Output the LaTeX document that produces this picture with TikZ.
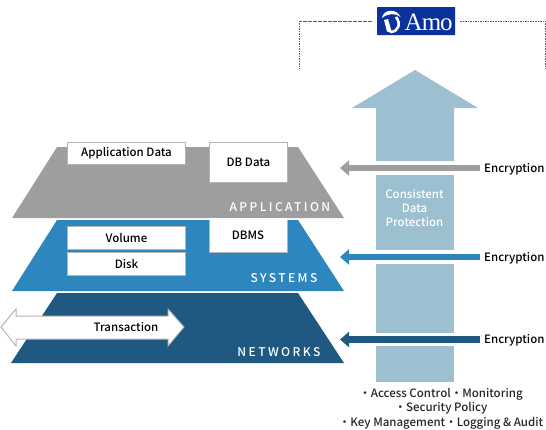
\documentclass[tikz,border=0pt]{standalone}
\usepackage{fontspec}
\setmainfont{Noto Sans CJK KR Medium}
\newfontfamily\logofont{Liberation Serif}
\usetikzlibrary{arrows.meta}
\definecolor{appgray}{HTML}{9D9E9D}
\definecolor{sysblue}{HTML}{2E86BF}
\definecolor{netblue}{HTML}{1F5880}
\definecolor{lightb}{HTML}{9DC0D0}
\definecolor{logob}{HTML}{0A319C}
\definecolor{boxline}{HTML}{B4B4B4}
\tikzset{
  x=1pt,y=-1pt,
  every node/.style={font=\fontsize{11.5}{14}\selectfont,text=black,inner sep=0pt},
  databox/.style={draw=boxline,line width=1pt,fill=white,anchor=north west},
  layerlabel/.style={text=white,anchor=east,font=\fontsize{12}{14}\selectfont\addfontfeature{LetterSpace=20}},
  enclabel/.style={anchor=west,inner sep=4pt,font=\fontsize{11.5}{14}\selectfont},
  encarrow/.style={line width=6.5pt,-{Triangle[length=9pt,width=15pt]}},
  shaft/.style={fill=lightb},
  dashline/.style={draw=black!65,line width=0.8pt,dash pattern=on 1.6pt off 0.9pt},
  listtext/.style={text=black!85,font=\fontsize{11.5}{14}\selectfont}
}
\begin{document}
\begin{tikzpicture}
\useasboundingbox (0,0) rectangle (546,429);
% layers
\fill[appgray] (57,147) -- (298,147) -- (344,218) -- (12,218) -- cycle;
\fill[sysblue] (57,220) -- (298,220) -- (344,291) -- (12,291) -- cycle;
\fill[netblue] (57,293) -- (298,293) -- (344,363) -- (11,363) -- cycle;
% boxes
\node[databox,minimum width=118pt,minimum height=22pt] (appdata) at (67,142) {\raisebox{-1pt}{Application Data}};
\node[databox,minimum width=78pt,minimum height=40pt] (dbdata) at (209,142) {\raisebox{-1pt}{DB Data}};
\node[databox,minimum width=118pt,minimum height=23pt] (volume) at (67,226) {\raisebox{-1pt}{Volume}};
\node[databox,minimum width=118pt,minimum height=23pt] (disk) at (67,252) {\raisebox{-1pt}{Disk}};
\fill[white] (209,218) rectangle (287,252);
\draw[boxline,line width=1pt] (209,220) -- (209,252) -- (287,252) -- (287,220);
\node (dbms) at (248,235) {DBMS};
% layer labels
\node[layerlabel] (lapp) at (330.5,207) {APPLICATION};
\node[layerlabel] (lsys) at (317.5,278) {SYSTEMS};
\node[layerlabel] (lnet) at (320.5,352) {NETWORKS};
% transaction arrow
\draw[boxline,line width=1pt,fill=white] (1,327) -- (16,309) -- (16,316) -- (168,316) -- (168,309) -- (184,327) -- (168,346) -- (168,339) -- (16,339) -- (16,346) -- cycle;
\node (trans) at (126,327) {Transaction};
% big arrow
\fill[shaft] (415,70) -- (478,108) -- (454,108) -- (454,161) -- (376,161) -- (376,108) -- (352,108) -- cycle;
\fill[shaft] (376,175) rectangle (454,250);
\fill[shaft] (376,264) rectangle (454,333);
\fill[shaft] (376,346) rectangle (454,382);
\node[text=white,align=center,font=\fontsize{11.5}{14}\selectfont] (cdp) at (414.5,208.3) {Consistent\\Data\\Protection};
% encryption
\coordinate (e1) at (480,168);
\coordinate (e2) at (480,257);
\coordinate (e3) at (480,339.5);
\node[enclabel,yshift=-1.5pt] (enc1) at (e1) {Encryption};
\node[enclabel,yshift=-1.5pt] (enc2) at (e2) {Encryption};
\node[enclabel,yshift=-1.2pt] (enc3) at (e3) {Encryption};
\coordinate (t1) at (340,168);
\coordinate (t2) at (340,257);
\coordinate (t3) at (340,339.5);
\draw[encarrow,appgray] (e1) -- (t1);
\draw[encarrow,sysblue] (e2) -- (t2);
\draw[encarrow,netblue] (e3) -- (t3);
% list
\node[listtext] (l1) at (441,394.2) {・Access Control・Monitoring};
\node[listtext] (l2) at (441,408.2) {・Security Policy};
\node[listtext] (l3) at (441,423.2) {・Key Management・Logging \& Audit};
% logo
\node[fill=logob,minimum width=78pt,minimum height=28pt,anchor=north west,rounded corners=0.5pt] (logo) at (377,7) {};
\node[text=white,anchor=west,font=\logofont\fontsize{25}{25}\selectfont\addfontfeature{LetterSpace=-4}] (amo) at (404.5,22) {Amo};
\fill[white] (382,18) .. controls (383,9) and (397,8) .. (400.5,17) .. controls (396,13) and (388,13) .. (382,18) -- cycle;
\draw[white,line width=2.6pt] (396,17) .. controls (401,23) and (399,32) .. (390,32);
\fill[white] (384,20) -- (388,19) -- (392,33) -- (387,31.5) -- cycle;
% dashed bracket
\coordinate (dl) at (299,69);
\coordinate (dr) at (545.5,69);
\draw[dashline] (372,21) -| (dl);
\draw[dashline] (460,21) -| (dr);
\end{tikzpicture}
\end{document}
